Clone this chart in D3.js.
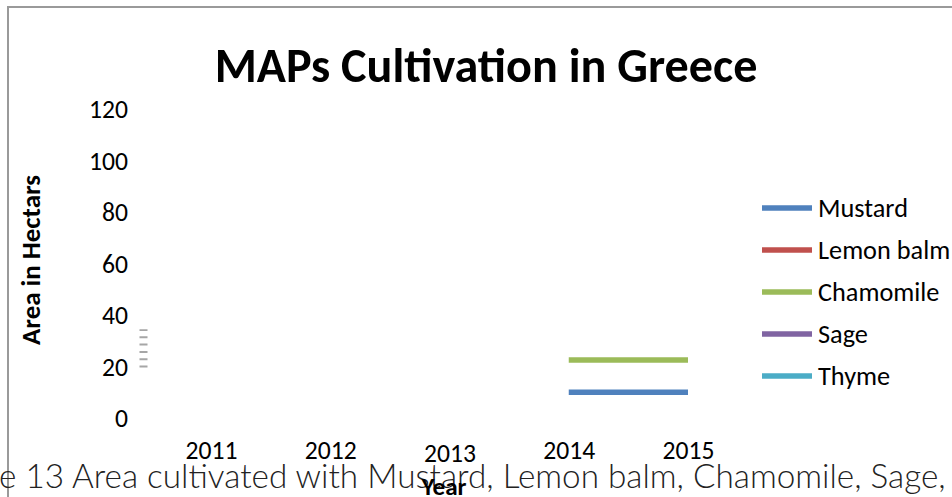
<!DOCTYPE html>
<html><head><meta charset="utf-8">
<script src="https://cdn.jsdelivr.net/npm/d3@7"></script>
<style>
html,body{margin:0;padding:0;background:#fff;overflow:hidden;}
svg{display:block;}
</style></head>
<body>
<svg id="c" width="952" height="497"></svg>
<script>
const years = ["2011","2012","2013","2014","2015"];
const seriesNames = ["Mustard","Lemon balm","Chamomile","Sage","Thyme"];
const seriesColors = ["#4f81bd","#c0504d","#9bbb59","#8064a2","#4bacc6"];
const mustard = [null,null,null,10,10];
const lemonBalm = [null,null,null,null,null];
const chamomile = [null,null,null,22.5,22.5];
const sage = [null,null,null,null,null];
const thyme = [null,null,null,null,null];
const yTicks = [0,20,40,60,80,100,120];
const artifactRange = [20,34.5];

const series = [mustard,lemonBalm,chamomile,sage,thyme];
const font = "Carlito, Calibri, Lato, 'Liberation Sans', sans-serif";

const svg = d3.select("#c");
const x = d3.scalePoint().domain(years).range([211,688]);
const y = d3.scaleLinear().domain([0,120]).range([418,109]);

// measure helper: font size giving target width
function fitSize(str, weight, family, base, target){
  const t = svg.append("text").attr("font-family",family).attr("font-weight",weight)
    .attr("font-size",base).text(str);
  const w = t.node().getComputedTextLength();
  t.remove();
  return base*target/w;
}
const tickSize = fitSize("2011","normal",font,20,52);
const titleSize = fitSize("MAPs Cultivation in Greece","bold",font,40,543);
const legSize = fitSize("Mustard","normal",font,20,90);
const ytSize = fitSize("Area in Hectars","bold",font,20,170);
const yearSize = fitSize("Year","bold",font,20,45);
const capFamily = "Lato, 'Open Sans', sans-serif";
const capSize = fitSize("e 13 Area cultivated with Mustard, Lemon balm, Chamomile, Sage,",300,capFamily,28,947);

// chart border (top and left)
svg.append("path").attr("d","M8,497V7H952").attr("fill","none").attr("stroke","#9a9a9a").attr("stroke-width",2);

// title
svg.append("text").attr("x",486).attr("y",82).attr("text-anchor","middle")
  .attr("font-family",font).attr("font-weight","bold").attr("font-size",titleSize)
  .attr("fill","#000").text("MAPs Cultivation in Greece");

// y axis
const yAxis = d3.axisLeft(y).tickValues(yTicks).tickSize(0).tickPadding(0);
const gy = svg.append("g").attr("transform","translate(128,0)").call(yAxis);
gy.select(".domain").remove();
gy.selectAll("text").attr("font-family",font).attr("font-size",tickSize).attr("fill","#000").attr("dy","0.35em");

// x axis labels
const xAxis = d3.axisBottom(x).tickSize(0).tickPadding(0);
const gx = svg.append("g").attr("transform","translate(0,441)").call(xAxis);
gx.select(".domain").remove();
gx.selectAll("text").attr("font-family",font).attr("font-size",tickSize).attr("fill","#000").attr("dy","0.71em")
  .attr("transform",d=> d==="2013" ? "translate(0,3)" : null);

// artifact dashes
svg.append("line").attr("x1",143.5).attr("x2",143.5)
  .attr("y1",y(artifactRange[0])+1).attr("y2",y(artifactRange[1]))
  .attr("stroke","#a6a6a6").attr("stroke-width",8).attr("stroke-dasharray","2,5.3");

// lines
const line = d3.line().defined(d=>d.v!=null).x(d=>x(d.year)).y(d=>y(d.v));
series.forEach((s,i)=>{
  const data = years.map((yr,j)=>({year:yr,v:s[j]}));
  svg.append("path").datum(data).attr("d",line).attr("fill","none")
    .attr("stroke",seriesColors[i]).attr("stroke-width",5.5).attr("stroke-linecap","butt");
});

// legend
const lg = svg.append("g");
seriesNames.forEach((n,i)=>{
  const yy = 208 + i*42;
  lg.append("line").attr("x1",762).attr("x2",812).attr("y1",yy).attr("y2",yy)
    .attr("stroke",seriesColors[i]).attr("stroke-width",5.5);
  lg.append("text").attr("x",818).attr("y",yy).attr("dy","0.35em")
    .attr("font-family",font).attr("font-size",legSize).attr("fill","#000").text(n);
});

// axis title
svg.append("text").attr("transform","translate(40,260) rotate(-90)").attr("text-anchor","middle")
  .attr("font-family",font).attr("font-weight","bold").attr("font-size",ytSize).attr("fill","#000").text("Area in Hectars");

// caption (cropped at left)
const cap = svg.append("text").attr("y",488)
  .attr("font-family",capFamily).attr("font-weight",300).attr("font-size",capSize)
  .attr("fill","#222").text("Figure 13 Area cultivated with Mustard, Lemon balm, Chamomile, Sage, and Thyme");
const pre = svg.append("text").attr("font-family",capFamily).attr("font-weight",300).attr("font-size",capSize).text("Figur");
const preW = pre.node().getComputedTextLength(); pre.remove();
cap.attr("x",-preW);

svg.append("text").attr("x",444).attr("y",495).attr("text-anchor","middle")
  .attr("font-family",font).attr("font-weight","bold").attr("font-size",yearSize).attr("fill","#000").text("Year");
</script>
</body></html>
